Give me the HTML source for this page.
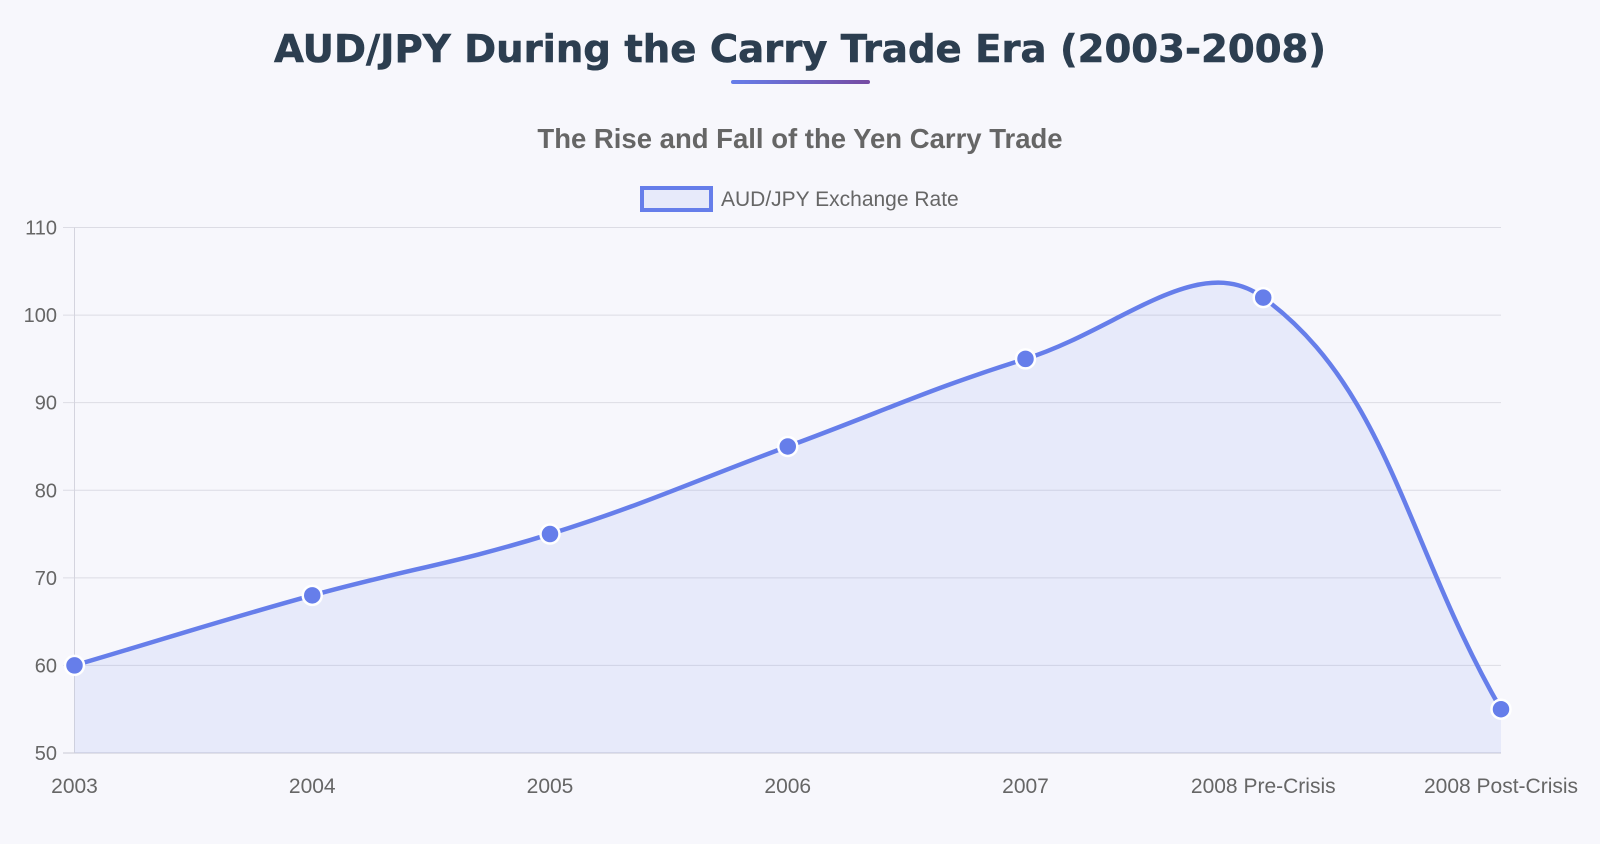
<!DOCTYPE html>
<html><head><meta charset="utf-8"><style>
html,body{margin:0;padding:0;background:#f7f7fc;width:1600px;height:844px;overflow:hidden}
</style></head><body>
<svg id="s" width="1600" height="844" xmlns="http://www.w3.org/2000/svg" style="position:absolute;left:0;top:0">
<defs><linearGradient id="g" x1="0" x2="1"><stop offset="0" stop-color="#667eea"/><stop offset="1" stop-color="#764ba2"/></linearGradient></defs>
<text x="800" y="62" text-anchor="middle" font-family="DejaVu Sans, sans-serif" font-weight="bold" font-size="38.6" fill="#2c3e50" stroke="#2c3e50" stroke-width="0.6">AUD/JPY During the Carry Trade Era (2003-2008)</text>
<rect x="731" y="80" width="139" height="4" rx="2" fill="url(#g)"/>
<text x="800" y="148" text-anchor="middle" font-family="Liberation Sans, sans-serif" font-weight="bold" font-size="27.5" fill="#666">The Rise and Fall of the Yen Carry Trade</text>
<rect x="642" y="188" width="69" height="22" fill="rgba(102,126,234,0.1)" stroke="#667eea" stroke-width="4"/>
<text x="721" y="206" font-family="Liberation Sans, sans-serif" font-size="21" fill="#666">AUD/JPY Exchange Rate</text>
<g id="grid"></g>
<path id="area" fill="rgba(102,126,234,0.1)"/>
<path id="line" fill="none" stroke="#667eea" stroke-width="4.5"/>
<g id="pts"></g>
</svg>
<script>
var X0=74.5,X1=1501,Y0=227.5,Y1=753;
var vals=[60,68,75,85,95,102,55];
var labs=["2003","2004","2005","2006","2007","2008 Pre-Crisis","2008 Post-Crisis"];
function y(v){return Y1-(v-50)/60*(Y1-Y0);}
var g='';
for(var v=50;v<=110;v+=10){var yy=y(v);g+='<line x1="63" x2="'+X1+'" y1="'+yy+'" y2="'+yy+'" stroke="'+(v==50?'#c8c8d4':'#dcdce4')+'" stroke-width="1"/>';
g+='<text x="57" y="'+(yy+7)+'" text-anchor="end" font-family="Liberation Sans, sans-serif" font-size="20" fill="#666">'+v+'</text>';}
g+='<line x1="'+X0+'" x2="'+X0+'" y1="'+Y0+'" y2="'+Y1+'" stroke="#d4d4de"/>';
var P=vals.map(function(v,i){return [X0+i*(X1-X0)/6,y(v)];});
P.forEach(function(p,i){
g+='<text x="'+p[0]+'" y="793" text-anchor="middle" font-family="Liberation Sans, sans-serif" font-size="21" fill="#666">'+labs[i]+'</text>';});
document.getElementById('grid').innerHTML=g;
var t=0.4,cp=[];
for(var i=0;i<P.length;i++){var pr=P[Math.max(i-1,0)],c=P[i],nx=P[Math.min(i+1,P.length-1)];
var d01=Math.hypot(c[0]-pr[0],c[1]-pr[1]),d12=Math.hypot(nx[0]-c[0],nx[1]-c[1]);
var s01=d01/(d01+d12)||0,s12=d12/(d01+d12)||0,fa=t*s01,fb=t*s12;
cp.push({p:[c[0]-fa*(nx[0]-pr[0]),c[1]-fa*(nx[1]-pr[1])],n:[c[0]+fb*(nx[0]-pr[0]),c[1]+fb*(nx[1]-pr[1])]});}
var d='M'+P[0][0]+','+P[0][1];
for(var i=1;i<P.length;i++){d+=' C'+cp[i-1].n[0]+','+cp[i-1].n[1]+' '+cp[i].p[0]+','+cp[i].p[1]+' '+P[i][0]+','+P[i][1];}
document.getElementById('line').setAttribute('d',d);
document.getElementById('area').setAttribute('d',d+' L'+X1+','+Y1+' L'+X0+','+Y1+' Z');
var s='';P.forEach(function(p){s+='<circle cx="'+p[0]+'" cy="'+p[1]+'" r="9.5" fill="#667eea" stroke="#fff" stroke-width="2.5"/>';});
document.getElementById('pts').innerHTML=s;
</script>
</body></html>
